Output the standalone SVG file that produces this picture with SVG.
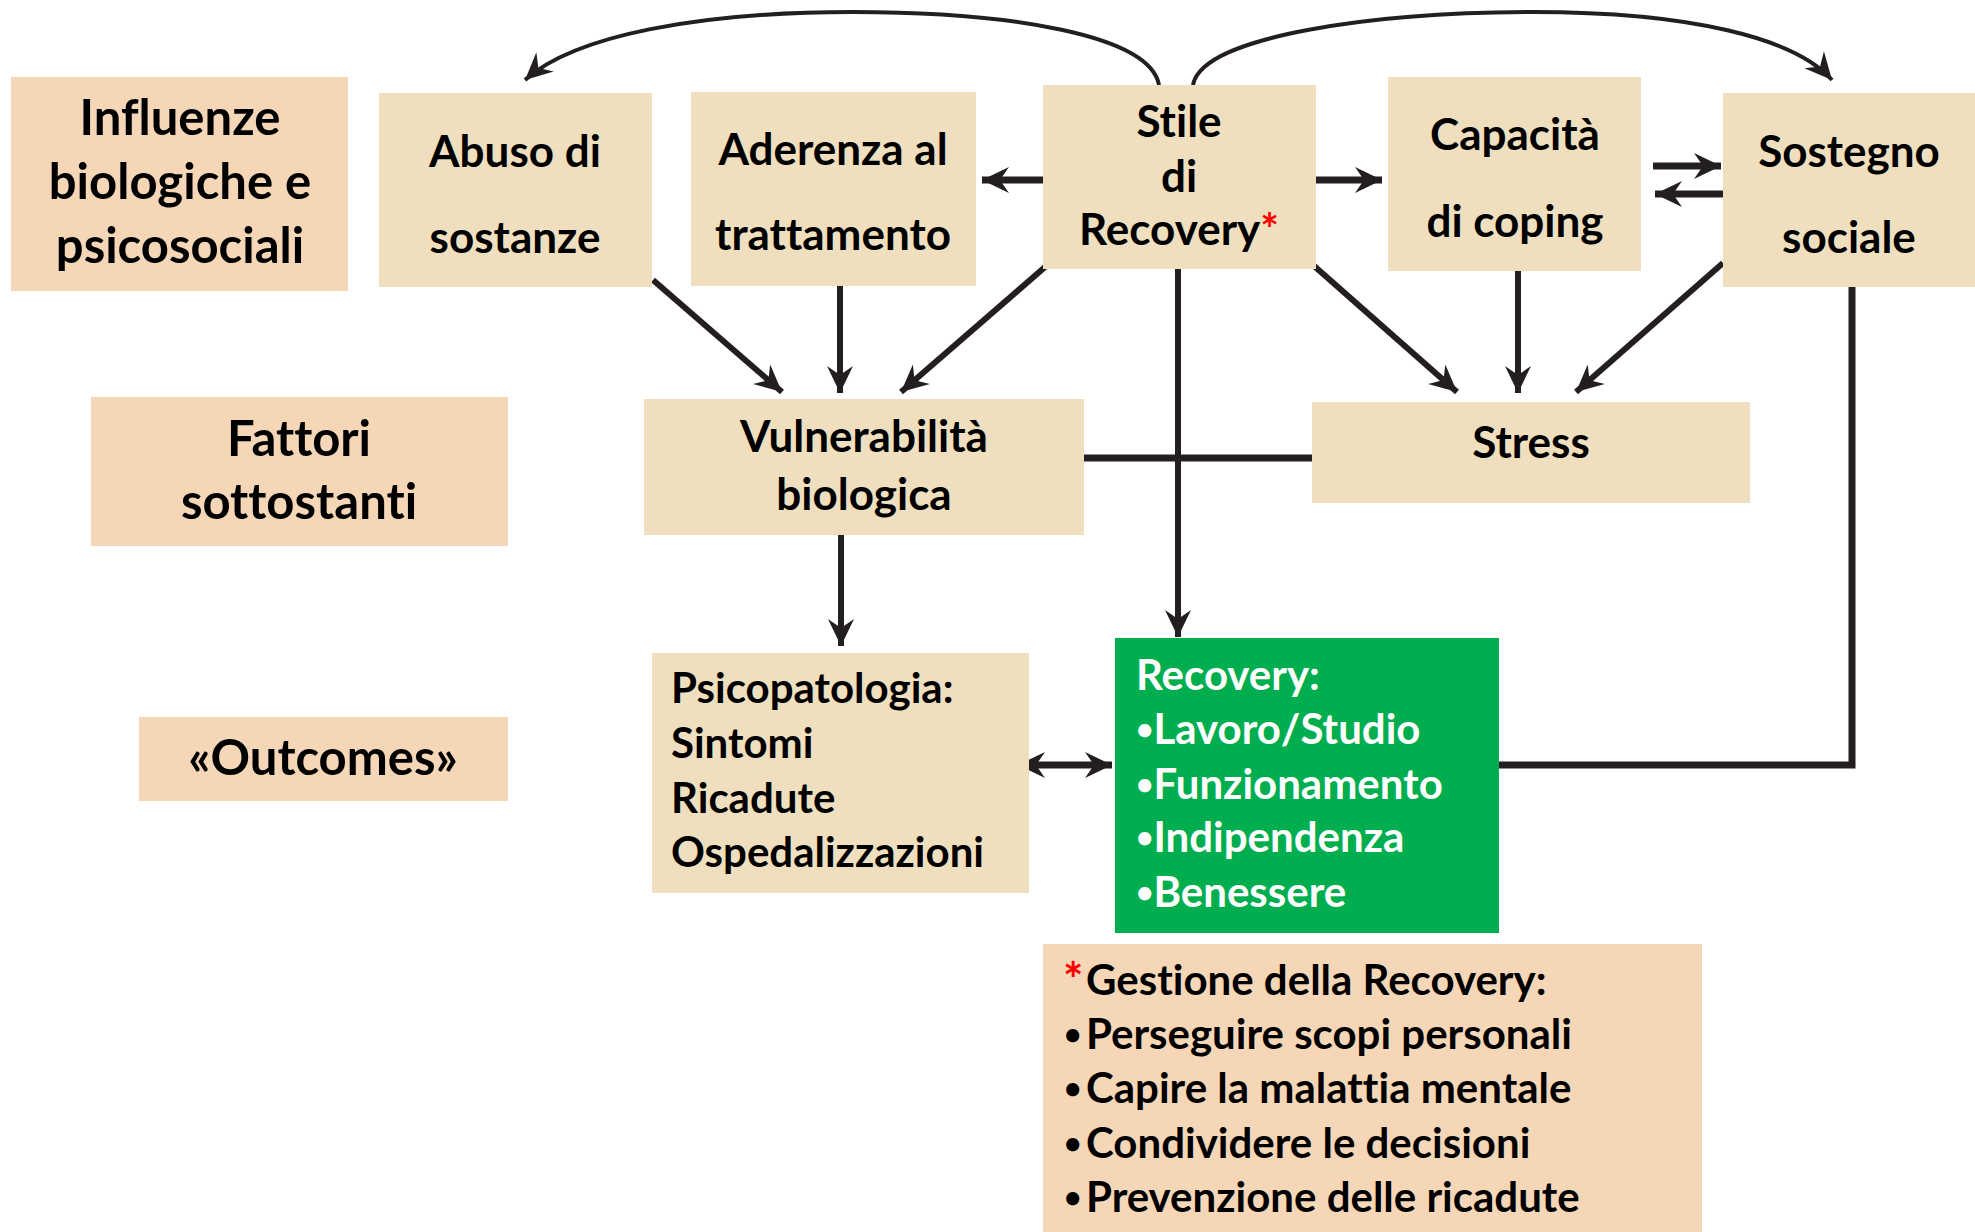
<svg xmlns="http://www.w3.org/2000/svg" width="1975" height="1232" viewBox="0 0 1975 1232">
<defs>
<style>
.lbl{fill:#F5D6B6}
.box{fill:#EFDFBE}
.grn{fill:#00AE4F}
text{font-family:"Lato","Liberation Sans",sans-serif;font-weight:700;fill:#000;font-variant-ligatures:none;font-feature-settings:"liga" 0,"clig" 0}
.c{text-anchor:middle}
.mid{font-size:44px}
.sm{font-size:42px}
.w{fill:#fff}
.red{fill:#FF0000}
.bul{font-size:30px}
.ln{fill:none;stroke:#231F20;stroke-width:6}
.th{fill:none;stroke:#231F20;stroke-width:7}
.cv{fill:none;stroke:#231F20;stroke-width:4}
</style>
<marker id="ah" markerUnits="userSpaceOnUse" viewBox="-28 -14 30 28" refX="0" refY="0" markerWidth="30" markerHeight="28" orient="auto-start-reverse">
<path d="M0,0 L-27,-13 L-18,0 L-27,13 Z" fill="#231F20"/>
</marker>
</defs>

<g id="connectors">
<path class="cv" d="M1159,85 C1150,35 1010,12 853,12 C700,12 575,35 525,80" marker-end="url(#ah)"/>
<path class="cv" d="M1193,85 C1202,35 1380,12 1533,12 C1690,12 1795,38 1832,80" marker-end="url(#ah)"/>
<line class="th" x1="1043" y1="180" x2="982" y2="180" marker-end="url(#ah)"/>
<line class="th" x1="1316" y1="180" x2="1382" y2="180" marker-end="url(#ah)"/>
<line class="th" x1="1653" y1="166" x2="1721" y2="166" marker-end="url(#ah)"/>
<line class="th" x1="1723" y1="194" x2="1655" y2="194" marker-end="url(#ah)"/>
<line class="ln" x1="653" y1="280" x2="782" y2="392" marker-end="url(#ah)"/>
<line class="ln" x1="840" y1="286" x2="840" y2="393" marker-end="url(#ah)"/>
<line class="ln" x1="1045" y1="267" x2="901" y2="392" marker-end="url(#ah)"/>
<line class="ln" x1="1313" y1="265" x2="1457" y2="392" marker-end="url(#ah)"/>
<line class="ln" x1="1518" y1="271" x2="1518" y2="393" marker-end="url(#ah)"/>
<line class="ln" x1="1723" y1="263" x2="1576" y2="392" marker-end="url(#ah)"/>
<line class="th" x1="1084" y1="458" x2="1312" y2="458"/>
<line class="ln" x1="1178" y1="269" x2="1178" y2="637" marker-end="url(#ah)"/>
<line class="ln" x1="841" y1="535" x2="841" y2="646" marker-end="url(#ah)"/>
<line class="th" x1="1018" y1="765" x2="1112" y2="765" marker-start="url(#ah)" marker-end="url(#ah)"/>
<polyline class="th" points="1499,765 1852,765 1852,287"/>
</g>

<g id="influenze">
<rect class="lbl" x="11" y="77" width="337" height="214"/>
<text class="c" font-size="49" x="180" y="135">Influenze</text>
<text class="c" font-size="49" x="180" y="199">biologiche e</text>
<text class="c" font-size="49" x="180" y="263">psicosociali</text>
</g>

<g id="fattori">
<rect class="lbl" x="91" y="397" width="417" height="149"/>
<text class="c" font-size="49" x="299" y="456">Fattori</text>
<text class="c" font-size="49" x="299" y="519">sottostanti</text>
</g>

<g id="outcomes">
<rect class="lbl" x="139" y="717" width="369" height="84"/>
<text class="c" font-size="49" x="323" y="775">«Outcomes»</text>
</g>

<g id="abuso">
<rect class="box" x="379" y="93" width="273" height="194"/>
<text class="c mid" x="515" y="167">Abuso di</text>
<text class="c mid" x="515" y="253">sostanze</text>
</g>

<g id="aderenza">
<rect class="box" x="691" y="92" width="285" height="194"/>
<text class="c mid" x="833" y="165">Aderenza al</text>
<text class="c mid" x="833" y="250">trattamento</text>
</g>

<g id="stile">
<rect class="box" x="1043" y="85" width="273" height="184"/>
<text class="c mid" x="1179" y="137">Stile</text>
<text class="c mid" x="1179" y="192">di</text>
<text class="c mid" x="1179" y="245">Recovery<tspan class="red">*</tspan></text>
</g>

<g id="capacita">
<rect class="box" x="1388" y="77" width="253" height="194"/>
<text class="c mid" x="1515" y="150">Capacità</text>
<text class="c mid" x="1515" y="237">di coping</text>
</g>

<g id="sostegno">
<rect class="box" x="1723" y="93" width="252" height="194"/>
<text class="c mid" x="1849" y="167">Sostegno</text>
<text class="c mid" x="1849" y="253">sociale</text>
</g>

<g id="vulnerabilita">
<rect class="box" x="644" y="399" width="440" height="136"/>
<text class="c mid" x="864" y="452">Vulnerabilità</text>
<text class="c mid" x="864" y="510">biologica</text>
</g>

<g id="stress">
<rect class="box" x="1312" y="402" width="438" height="101"/>
<text class="c mid" x="1531" y="458">Stress</text>
</g>

<g id="psicopatologia">
<rect class="box" x="652" y="653" width="377" height="240"/>
<text class="sm" x="671" y="703">Psicopatologia:</text>
<text class="sm" x="671" y="758">Sintomi</text>
<text class="sm" x="671" y="813">Ricadute</text>
<text class="sm" x="671" y="867">Ospedalizzazioni</text>
</g>

<g id="recovery">
<rect class="grn" x="1115" y="638" width="384" height="295"/>
<text class="sm w" x="1136" y="690">Recovery:</text>
<text class="sm w" x="1136" y="744"><tspan class="bul" dy="-4">•</tspan><tspan dy="4">Lavoro/Studio</tspan></text>
<text class="sm w" x="1136" y="799"><tspan class="bul" dy="-4">•</tspan><tspan dy="4">Funzionamento</tspan></text>
<text class="sm w" x="1136" y="852"><tspan class="bul" dy="-4">•</tspan><tspan dy="4">Indipendenza</tspan></text>
<text class="sm w" x="1136" y="907"><tspan class="bul" dy="-4">•</tspan><tspan dy="4">Benessere</tspan></text>
</g>

<g id="gestione">
<rect class="lbl" x="1043" y="944" width="659" height="288"/>
<text class="sm"><tspan class="red" x="1063" y="997" font-size="48">*</tspan><tspan x="1086" y="995">Gestione della Recovery:</tspan></text>
<text class="sm"><tspan class="bul" x="1064" y="1045">•</tspan><tspan x="1086" y="1049">Perseguire scopi personali</tspan></text>
<text class="sm"><tspan class="bul" x="1064" y="1099">•</tspan><tspan x="1086" y="1103">Capire la malattia mentale</tspan></text>
<text class="sm"><tspan class="bul" x="1064" y="1154">•</tspan><tspan x="1086" y="1158">Condividere le decisioni</tspan></text>
<text class="sm"><tspan class="bul" x="1064" y="1208">•</tspan><tspan x="1086" y="1212">Prevenzione delle ricadute</tspan></text>
</g>
</svg>
